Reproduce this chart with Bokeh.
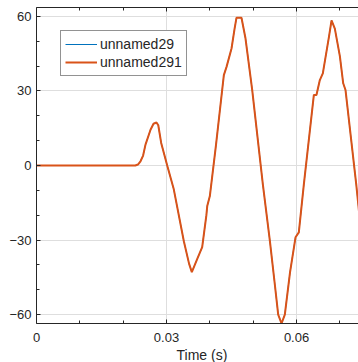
from bokeh.plotting import figure
from bokeh.models import (Range1d, FixedTicker, LinearAxis, Legend, LegendItem, Title)
from bokeh.embed import file_html
from bokeh.resources import INLINE

# ---- data ----
time_s = [0, 0.0228, 0.0234, 0.0240, 0.0246, 0.02515, 0.02631, 0.0270, 0.02769, 0.0281,
          0.02877, 0.03016, 0.03168, 0.0340, 0.0352, 0.03584, 0.0370, 0.03823, 0.0392,
          0.0394, 0.0400, 0.0414, 0.04323, 0.04385, 0.0450, 0.0457, 0.04615, 0.0473, 0.04823,
          0.04977, 0.05223, 0.05385, 0.0550, 0.05577, 0.05654, 0.0573, 0.0585, 0.05977, 0.06053,
          0.06169, 0.0640, 0.0646, 0.06538, 0.06607, 0.0675, 0.06808, 0.06884, 0.0700, 0.07077,
          0.0713, 0.07378, 0.0745]
unnamed291 = [0, 0, 0.4, 1.7, 4, 8.4, 14.4, 16.8, 17.3, 16.2,
              9.1, 0, -9.6, -30.5, -39.5, -42.9, -38, -32.9, -20,
              -16.3, -12.3, 8, 36.4, 39.7, 47.1, 55, 59.5, 59.5, 51.1,
              30.4, -7.6, -30.3, -48, -60, -63.6, -60, -43, -28.9, -26.9,
              -7.6, 28.4, 28.4, 34.4, 37.1, 52, 58.4, 55.1, 44, 33.1,
              30.4, -7.6, -20]
unnamed29 = list(unnamed291)

x_ticks = [0, 0.03, 0.06]
x_tick_labels = ["0", "0.03", "0.06"]
x_minor = [0.01, 0.02, 0.04, 0.05, 0.07]
y_ticks = [-60, -30, 0, 30, 60]
y_minor = [-50, -40, -20, -10, 10, 20, 40, 50]
series_names = ["unnamed29", "unnamed291"]
x_label = "Time (s)"

FONT = "Liberation Sans"
AX = "#262626"
GRID = "#dedede"

p = figure(width=358, height=362, output_backend="svg", toolbar_location=None,
           x_range=Range1d(0, 0.0743), y_range=Range1d(-63.6, 63.6),
           min_border_left=36, min_border_right=0, min_border_top=7, min_border_bottom=37)
p.outline_line_color = None
p.background_fill_color = "white"
p.border_fill_color = "white"

def style_axis(ax, ticks, minor):
    ax.ticker = FixedTicker(ticks=ticks, minor_ticks=minor)
    ax.axis_line_color = AX
    ax.axis_line_width = 1
    ax.major_tick_line_color = AX
    ax.minor_tick_line_color = AX
    ax.major_tick_in = 4
    ax.major_tick_out = 0
    ax.minor_tick_in = 3
    ax.minor_tick_out = 0
    ax.major_label_text_font = FONT
    ax.major_label_text_color = AX
    ax.major_label_text_font_size = "13px"

style_axis(p.xaxis[0], x_ticks, x_minor)
p.xaxis[0].major_label_overrides = {t: l for t, l in zip(x_ticks, x_tick_labels)}
p.xaxis[0].major_label_standoff = 9
style_axis(p.yaxis[0], y_ticks, y_minor)
p.yaxis[0].major_label_standoff = 5

top = LinearAxis()
style_axis(top, x_ticks, x_minor)
top.major_label_overrides = {t: "" for t in x_ticks}
top.major_label_standoff = 0
p.add_layout(top, "above")

p.xgrid.ticker = FixedTicker(ticks=x_ticks)
p.ygrid.ticker = FixedTicker(ticks=y_ticks)
for g in (p.xgrid[0], p.ygrid[0]):
    g.grid_line_color = GRID
    g.grid_line_width = 1

r1 = p.line(time_s, unnamed29, line_color="#0072BD", line_width=1)
r2 = p.line(time_s, unnamed291, line_color="#D95319", line_width=2)

legend = Legend(items=[LegendItem(label=series_names[0], renderers=[r1]),
                       LegendItem(label=series_names[1], renderers=[r2])],
                location=(24, 247), orientation="vertical")
legend.label_text_font = FONT
legend.label_text_font_size = "14px"
legend.label_text_color = AX
legend.border_line_color = AX
legend.border_line_width = 1
legend.background_fill_color = "white"
legend.background_fill_alpha = 1
legend.glyph_width = 32
legend.glyph_height = 18
legend.label_height = 18
legend.label_standoff = 3
legend.spacing = 0
legend.padding = 4
legend.margin = 0
p.add_layout(legend, "center")

p.add_layout(Title(text=x_label, align="left", offset=140, text_font=FONT,
                   text_font_size="14px", text_font_style="normal", text_color=AX,
                   standoff=0, text_line_height=0.8), "below")

open("out.html", "w").write(file_html(p, INLINE))
